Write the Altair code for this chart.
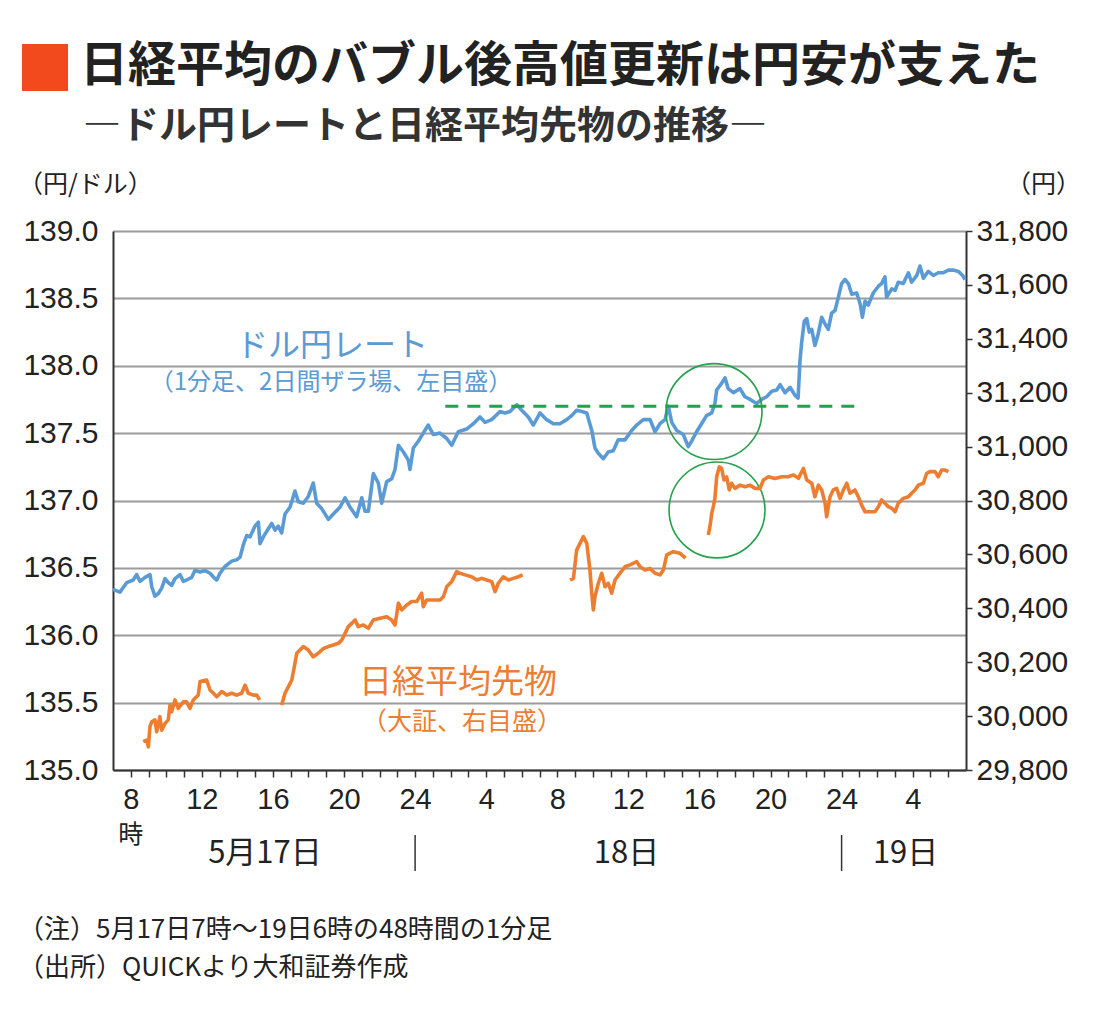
import altair as alt
import pandas as pd

# ---------------- data ----------------
# hours counted from 5/17 0:00 (24 = 5/18 0:00, 48 = 5/19 0:00)
usd_hours = [7.00, 7.39, 7.77, 8.14, 8.33, 8.52, 8.80, 9.08, 9.18, 9.36, 9.55, 9.74, 9.93, 10.11, 10.30,
             10.49, 10.77, 10.96, 11.14, 11.43, 11.61, 11.90, 12.18, 12.46, 12.74, 12.84, 13.02, 13.30,
             13.68, 13.96, 14.15, 14.33, 14.52, 14.71, 14.99, 15.18, 15.27, 15.46, 15.74, 15.93, 16.12,
             16.30, 16.49, 16.68, 16.96, 17.24, 17.43, 17.71, 17.99, 18.27, 18.46, 18.74, 19.12, 19.40,
             19.77, 20.06, 20.34, 20.71, 21.00, 21.18, 21.37, 21.65, 21.93, 22.12, 22.40, 22.68, 22.87,
             23.06, 23.34, 23.62, 23.71, 23.90, 24.18, 24.46, 24.74, 25.02, 25.40, 25.78, 26.06, 26.43,
             26.90, 27.28, 27.65, 27.93, 28.31, 28.78, 29.06, 29.34, 29.72, 30.00, 30.37, 30.65, 31.03,
             31.40, 31.78, 32.15, 32.53, 32.81, 33.09, 33.38, 33.66, 33.94, 34.12, 34.31, 34.59, 34.87,
             35.15, 35.43, 35.81, 36.19, 36.47, 36.84, 37.22, 37.50, 37.78, 38.06, 38.25, 38.44, 38.72,
             39.09, 39.37, 39.56, 39.84, 40.12, 40.40, 40.69, 40.87, 40.97, 41.25, 41.44, 41.62, 41.91,
             42.28, 42.56, 42.85, 43.22, 43.50, 43.78, 44.07, 44.35, 44.54, 44.82, 45.10, 45.38, 45.55,
             45.66, 45.75, 45.90, 46.04, 46.18, 46.32, 46.50, 46.69, 46.88, 47.07, 47.25, 47.44, 47.63,
             47.82, 48.00, 48.19, 48.38, 48.57, 48.85, 49.04, 49.17, 49.32, 49.50, 49.78, 50.07, 50.25,
             50.44, 50.53, 50.82, 51.01, 51.19, 51.47, 51.76, 51.94, 52.23, 52.41, 52.60, 52.88, 53.16,
             53.44, 53.72, 54.01, 54.29, 54.57, 54.81, 54.94]
usd_values = [136.34, 136.32, 136.39, 136.41, 136.45, 136.40, 136.43, 136.45, 136.36, 136.29, 136.31,
              136.35, 136.42, 136.39, 136.37, 136.42, 136.45, 136.40, 136.41, 136.43, 136.48, 136.47,
              136.48, 136.46, 136.42, 136.41, 136.46, 136.51, 136.55, 136.56, 136.58, 136.67, 136.74,
              136.73, 136.81, 136.84, 136.68, 136.73, 136.79, 136.83, 136.78, 136.81, 136.76, 136.90,
              136.95, 137.07, 136.99, 136.98, 137.03, 137.13, 136.98, 136.94, 136.86, 136.90, 136.95,
              137.02, 136.95, 136.88, 137.02, 136.92, 136.92, 137.20, 137.13, 136.98, 137.14, 137.16,
              137.23, 137.41, 137.36, 137.30, 137.23, 137.39, 137.44, 137.50, 137.56, 137.49, 137.50,
              137.46, 137.41, 137.51, 137.53, 137.57, 137.62, 137.58, 137.60, 137.66, 137.65, 137.66,
              137.71, 137.67, 137.62, 137.56, 137.65, 137.60, 137.57, 137.57, 137.60, 137.63, 137.67,
              137.66, 137.65, 137.52, 137.39, 137.35, 137.31, 137.36, 137.37, 137.45, 137.45, 137.52,
              137.56, 137.60, 137.60, 137.51, 137.57, 137.60, 137.70, 137.58, 137.52, 137.49, 137.40,
              137.44, 137.51, 137.57, 137.63, 137.65, 137.72, 137.82, 137.87, 137.91, 137.83, 137.80,
              137.83, 137.77, 137.75, 137.72, 137.75, 137.77, 137.81, 137.82, 137.86, 137.80, 137.84,
              137.78, 137.76, 138.04, 138.17, 138.33, 138.35, 138.25, 138.27, 138.15, 138.24, 138.36,
              138.31, 138.27, 138.39, 138.41, 138.51, 138.61, 138.64, 138.61, 138.53, 138.54, 138.46,
              138.36, 138.48, 138.45, 138.54, 138.59, 138.61, 138.66, 138.51, 138.57, 138.56, 138.62,
              138.61, 138.69, 138.62, 138.67, 138.74, 138.65, 138.70, 138.67, 138.69, 138.69, 138.71,
              138.71, 138.70, 138.67, 138.64]

# Nikkei futures, one pair of lists per trading session
nk1_hours = [8.70, 8.90, 8.99, 9.08, 9.18, 9.36, 9.46, 9.64, 9.74, 9.93, 10.11, 10.21, 10.30, 10.49,
             10.67, 10.96, 11.14, 11.33, 11.52, 11.80, 11.90, 12.27, 12.46, 12.65, 12.84, 13.12, 13.40,
             13.68, 13.96, 14.24, 14.43, 14.61, 14.90, 15.09, 15.25]
nk1_values = [29905, 29911, 29886, 29961, 29979, 29986, 29942, 29998, 29948, 29973, 29986, 30041, 30016,
              30060, 30029, 30053, 30053, 30029, 30060, 30078, 30128, 30134, 30097, 30085, 30072, 30091,
              30078, 30085, 30078, 30085, 30115, 30085, 30078, 30078, 30060]
nk2_hours = [16.49, 16.68, 16.87, 17.06, 17.24, 17.34, 17.52, 17.71, 17.99, 18.27, 18.55, 18.84, 19.12,
             19.40, 19.68, 19.87, 20.06, 20.24, 20.43, 20.62, 20.80, 21.09, 21.37, 21.65, 22.03, 22.40,
             22.68, 22.87, 23.06, 23.25, 23.53, 23.81, 24.09, 24.37, 24.46, 24.65, 25.02, 25.40, 25.59,
             25.78, 26.06, 26.34, 26.53, 26.81, 27.18, 27.47, 27.75, 28.03, 28.31, 28.50, 28.68, 28.96,
             29.25, 29.53, 29.81, 30.05]
nk2_values = [30041, 30085, 30109, 30134, 30196, 30233, 30245, 30258, 30245, 30220, 30233, 30251, 30258,
              30264, 30270, 30282, 30307, 30332, 30344, 30357, 30332, 30338, 30326, 30357, 30363, 30369,
              30357, 30338, 30419, 30394, 30412, 30425, 30425, 30456, 30406, 30431, 30431, 30431, 30443,
              30480, 30499, 30536, 30530, 30524, 30517, 30505, 30511, 30505, 30499, 30462, 30493, 30517,
              30505, 30511, 30517, 30524]
nk3_hours = [32.72, 32.91, 33.09, 33.28, 33.47, 33.66, 33.84, 33.94, 34.03, 34.12, 34.31, 34.50, 34.69,
             34.87, 35.06, 35.25, 35.53, 35.81, 36.09, 36.47, 36.66, 36.94, 37.22, 37.50, 37.78, 37.97,
             38.16, 38.53, 38.91, 39.22]
nk3_values = [30505, 30511, 30616, 30641, 30666, 30641, 30542, 30456, 30394, 30443, 30493, 30530, 30480,
              30493, 30456, 30505, 30530, 30554, 30561, 30573, 30554, 30542, 30548, 30530, 30524, 30542,
              30598, 30610, 30604, 30586]
nk4_hours = [40.50, 40.59, 40.69, 40.78, 40.87, 40.97, 41.12, 41.25, 41.38, 41.53, 41.68, 41.81, 42.00,
             42.28, 42.56, 42.85, 43.13, 43.41, 43.60, 43.88, 44.25, 44.63, 45.00, 45.29, 45.57, 45.85,
             46.04, 46.32, 46.50, 46.69, 46.88, 47.07, 47.16, 47.35, 47.53, 47.72, 47.91, 48.10, 48.29,
             48.47, 48.75, 48.94, 49.13, 49.32, 49.60, 49.88, 50.07, 50.25, 50.44, 50.63, 50.82, 51.01,
             51.19, 51.47, 51.76, 51.94, 52.13, 52.32, 52.60, 52.79, 52.97, 53.26, 53.44, 53.63, 53.82,
             54.01]
nk4_values = [30672, 30703, 30752, 30777, 30808, 30888, 30925, 30919, 30876, 30888, 30839, 30864, 30845,
              30857, 30851, 30857, 30845, 30845, 30876, 30888, 30882, 30888, 30888, 30895, 30882, 30919,
              30876, 30864, 30814, 30857, 30839, 30790, 30740, 30814, 30839, 30845, 30808, 30839, 30864,
              30827, 30839, 30814, 30783, 30758, 30758, 30758, 30777, 30802, 30790, 30777, 30771, 30758,
              30790, 30808, 30814, 30827, 30839, 30857, 30864, 30901, 30907, 30907, 30888, 30913, 30913,
              30907]
nk_sessions = [(nk1_hours, nk1_values), (nk2_hours, nk2_values), (nk3_hours, nk3_values), (nk4_hours, nk4_values)]

# annotations (data coordinates)
level_hours = [25.7, 48.8]
level_value = [137.70]
circle_hours = [40.82, 40.99]
circle_usd = [137.66, 136.93]
usd_label = ["ドル円レート", "（1分足、2日間ザラ場、左目盛）"]
usd_label_pos = [(19.32, 138.15), (19.27, 137.87)]
nk_label = ["日経平均先物", "（大証、右目盛）"]
nk_label_pos = [(26.41, 30123), (26.64, 29978)]
day_labels = ["5月17日", "18日", "19日"]
day_label_hours = [15.55, 35.9, 51.6]
day_breaks = [24, 48]

title = "日経平均のバブル後高値更新は円安が支えた"
subtitle = "―ドル円レートと日経平均先物の推移―"
left_unit = "（円/ドル）"
right_unit = "（円）"
notes = ["（注）5月17日7時～19日6時の48時間の1分足", "（出所）QUICKより大和証券作成"]

# ---------------- styling ----------------
BLUE = "#5b9bd5"
ORANGE = "#ed7d31"
GREEN = "#23a14b"
INK = "#222222"
JFONT = "Noto Sans CJK JP"
NFONT = "Liberation Sans"
W, H = 853, 539

usd_df = pd.DataFrame({"hour": usd_hours[:len(usd_values)], "usd": usd_values[:len(usd_hours)]})
rows = []
for s, (hh, vv) in enumerate(nk_sessions, start=1):
    for h, v in zip(hh, vv):
        rows.append({"hour": h, "nk": v, "session": s})
nk_df = pd.DataFrame(rows)

x_scale = alt.Scale(domain=[7, 55], nice=False, zero=False)
yl_scale = alt.Scale(domain=[135, 139], nice=False, zero=False)
yr_scale = alt.Scale(domain=[29800, 31800], nice=False, zero=False)

x_axis = alt.Axis(
    values=list(range(8, 55)),
    labelExpr="(datum.value - 8) % 4 == 0 ? '' + ((datum.value - 1) % 24 + 1) : ''",
    title=None, grid=False, ticks=True, tickSize=7, tickColor="#333", tickWidth=1.5,
    domainColor="#333", domainWidth=2, labelFont=NFONT, labelFontSize=29, labelColor=INK,
    labelPadding=8, labelOverlap=False, labelFlush=False,
)
left_axis = alt.Axis(
    orient="left", values=[135 + 0.5 * i for i in range(9)], format=".1f", title=None,
    ticks=False, grid=True, gridColor="#9c9c9c", gridWidth=2, domainColor="#333", domainWidth=2,
    labelFont=NFONT, labelFontSize=30, labelColor=INK, labelPadding=15,
)
right_axis = alt.Axis(
    orient="right", values=[29800 + 200 * i for i in range(11)], format=",.0f", title=None,
    ticks=True, tickSize=6, tickColor="#333", tickWidth=1.5, grid=False,
    domainColor="#333", domainWidth=2, labelFont=NFONT, labelFontSize=30, labelColor=INK,
    labelPadding=4,
)


def X(f):
    # every layer carries the same x axis definition so the shared axis merges cleanly
    return alt.X(f, type="quantitative", scale=x_scale, axis=x_axis)


def YL(f):
    return alt.Y(f, type="quantitative", scale=yl_scale, axis=left_axis)


def YR(f):
    return alt.Y(f, type="quantitative", scale=yr_scale, axis=right_axis)


# ---- left (USD/JPY) group ----
usd_line = alt.Chart(usd_df).mark_line(color=BLUE, strokeWidth=3.6, strokeJoin="round").encode(
    x=X("hour"), y=YL("usd"),
)
level_df = pd.DataFrame({"h0": [level_hours[0]], "h1": [level_hours[1]], "v": level_value})
level_rule = alt.Chart(level_df).mark_rule(color=GREEN, strokeWidth=3, strokeDash=[13, 9]).encode(
    x=X("h0"), x2="h1", y=YL("v"),
)
circ_df = pd.DataFrame({"h": circle_hours, "v": circle_usd})
circles = alt.Chart(circ_df).mark_point(
    shape="circle", filled=False, size=9200, color=GREEN, strokeWidth=1.6, opacity=1
).encode(x=X("h"), y=YL("v"))

ulab_df = pd.DataFrame({"t": usd_label, "h": [p[0] for p in usd_label_pos], "v": [p[1] for p in usd_label_pos]})
usd_title = alt.Chart(ulab_df.iloc[[0]]).mark_text(
    font=JFONT, fontSize=32, color=BLUE, baseline="middle", align="center"
).encode(x=X("h"), y=YL("v"), text="t:N")
usd_sub = alt.Chart(ulab_df.iloc[[1]]).mark_text(
    font=JFONT, fontSize=24, color=BLUE, baseline="middle", align="center"
).encode(x=X("h"), y=YL("v"), text="t:N")

left_group = alt.layer(usd_line, level_rule, circles, usd_title, usd_sub).resolve_scale(y="shared")

# ---- right (Nikkei) group ----
nk_line = alt.Chart(nk_df).mark_line(color=ORANGE, strokeWidth=3.6, strokeJoin="round").encode(
    x=X("hour"), y=YR("nk"), detail="session:N",
)
nlab_df = pd.DataFrame({"t": nk_label, "h": [p[0] for p in nk_label_pos], "v": [p[1] for p in nk_label_pos]})
nk_title = alt.Chart(nlab_df.iloc[[0]]).mark_text(
    font=JFONT, fontSize=33, color=ORANGE, baseline="middle", align="center"
).encode(x=X("h"), y=YR("v"), text="t:N")
nk_sub = alt.Chart(nlab_df.iloc[[1]]).mark_text(
    font=JFONT, fontSize=25, color=ORANGE, baseline="middle", align="center"
).encode(x=X("h"), y=YR("v"), text="t:N")

right_group = alt.layer(nk_line, nk_title, nk_sub).resolve_scale(y="shared")


# ---- decorations outside the plot (pixel positions relative to plot origin) ----
def ptext(s, x, y, size, color=INK, weight="normal", align="left", font=JFONT):
    return alt.Chart(pd.DataFrame({"t": [s]})).mark_text(
        font=font, fontSize=size, fontWeight=weight, color=color, align=align, baseline="middle"
    ).encode(text="t:N", x=alt.value(x), y=alt.value(y))


title_box = alt.Chart(pd.DataFrame({"t": [title]})).mark_rect(color="#f24a1d").encode(
    x=alt.value(-91), x2=alt.value(-45), y=alt.value(-187), y2=alt.value(-140)
)
title_txt = ptext(title, -33, -164, 48, weight="bold")
subtitle_txt = ptext(subtitle, -30, -104, 38, weight="bold", color="#333333")
lunit = ptext(left_unit, -95, -46, 25)
runit = ptext(right_unit, 968, -46, 25, align="right")

ji = alt.Chart(pd.DataFrame({"h": [8], "t": ["時"]})).mark_text(
    font=JFONT, fontSize=25, color=INK, baseline="middle", align="center"
).encode(x=X("h"), y=alt.value(604), text="t:N")
days = alt.Chart(pd.DataFrame({"h": day_label_hours, "t": day_labels})).mark_text(
    font=JFONT, fontSize=31, color=INK, baseline="middle", align="center"
).encode(x=X("h"), y=alt.value(623), text="t:N")
breaks = alt.Chart(pd.DataFrame({"h": day_breaks})).mark_rule(color="#333", strokeWidth=1.5).encode(
    x=X("h"), y=alt.value(604), y2=alt.value(640)
)
note1 = ptext(notes[0], -95, 699, 26)
note2 = ptext(notes[1], -95, 737, 26)

chart = alt.layer(
    left_group, right_group,
    title_box, title_txt, subtitle_txt, lunit, runit, ji, days, breaks, note1, note2,
).resolve_scale(y="independent").properties(
    width=W, height=H,
    autosize=alt.AutoSizeParams(type="none"),
    padding={"left": 105, "top": 223, "right": 120, "bottom": 235},
    background="white",
).configure_view(stroke=None)

chart.save("out.html", embed_options={"renderer": "svg", "actions": False})
